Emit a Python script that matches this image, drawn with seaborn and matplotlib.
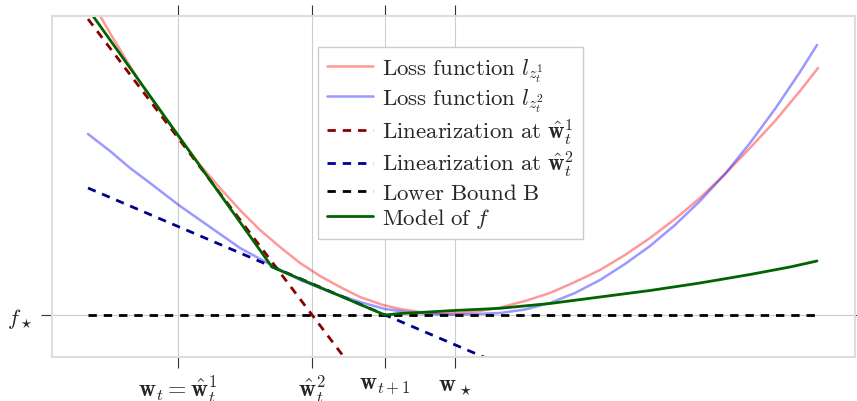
import matplotlib
matplotlib.use("Agg")
import matplotlib.pyplot as plt
import seaborn as sns

# x / y (x in pixels, y = height above f_star)
loss1_x = [95, 110, 125, 140, 155, 178, 200, 220, 240, 260, 280, 300, 320, 340, 360, 383, 400, 420, 441,
           460, 480, 500, 525, 550, 575, 600, 625, 650, 675, 700, 725, 750, 775, 800, 818]
loss1_y = [308, 282, 257, 233, 211, 179, 150, 127, 105, 85, 68, 52, 39, 28, 18, 10, 6, 3, 1.5,
           2, 4, 7.5, 14, 22, 33, 45, 60, 77, 96, 117, 141, 167, 194, 224, 247]

loss2_x = [88, 110, 130, 150, 180, 210, 240, 273, 300, 330, 360, 385, 410, 430, 452,
           475, 500, 525, 550, 575, 600, 625, 650, 675, 700, 725, 750, 775, 800, 817]
loss2_y = [181, 164, 147, 132, 109, 88, 67, 49, 35, 23, 13, 6, 2.5, 1, 0.3,
           1, 2, 5.5, 12, 22, 35, 51, 69, 90, 114, 141, 172, 206, 243, 270]

lin1_x = [88, 350]
lin1_y = [296, -50]

lin2_x = [88, 500]
lin2_y = [127, -49]

bound_x = [88, 815]
bound_y = [0, 0]

model_x = [93, 272, 385, 400, 420, 450, 500, 550, 600, 650, 700, 750, 790, 817]
model_y = [299, 48, 0, 1.5, 2.5, 4.3, 6.7, 11.5, 18, 24.5, 32, 40.5, 48, 54]

xticks = [178, 312, 385, 455]
xlabels = [r"$\mathbf{w}_t = \hat{\mathbf{w}}_t^1$", r"$\hat{\mathbf{w}}_t^2$",
           r"$\mathbf{w}_{t+1}$", r"$\mathbf{w}_\star$"]
f_star = 0

sns.set_style("white")
plt.rcParams['mathtext.fontset'] = 'cm'
plt.rcParams['font.family'] = ['DejaVu Serif']

fig = plt.figure(figsize=(8.57, 4.02), dpi=100)
ax = fig.add_axes([52/857, 1 - 358/402, (855 - 52)/857, (358 - 17)/402])

dash = (0, (3, 2.5))
sns.lineplot(x=loss1_x, y=loss1_y, ax=ax, color='red', alpha=0.4, lw=1.8,
             label=r"$\mathrm{Loss\ function}\ l_{z_t^1}$")
sns.lineplot(x=loss2_x, y=loss2_y, ax=ax, color='blue', alpha=0.4, lw=1.8,
             label=r"$\mathrm{Loss\ function}\ l_{z_t^2}$")
sns.lineplot(x=lin1_x, y=lin1_y, ax=ax, color='darkred', lw=2, linestyle=dash,
             label=r"$\mathrm{Linearization\ at}\ \hat{\mathbf{w}}_t^1$")
sns.lineplot(x=lin2_x, y=lin2_y, ax=ax, color='darkblue', lw=2, linestyle=dash,
             label=r"$\mathrm{Linearization\ at}\ \hat{\mathbf{w}}_t^2$")
sns.lineplot(x=bound_x, y=bound_y, ax=ax, color='black', lw=2, linestyle=dash,
             label=r"$\mathrm{Lower\ Bound\ B}$")
sns.lineplot(x=model_x, y=model_y, ax=ax, color='darkgreen', lw=2,
             label=r"$\mathrm{Model\ of}\ f$")

ax.set_xlim(52, 855)
ax.set_ylim(316 - 358, 316 - 17)
ax.set_xticks(xticks)
ax.set_xticklabels(xlabels, fontsize=17)
ax.set_yticks([f_star])
ax.set_yticklabels([r"$f_\star$"], fontsize=16)

ax.grid(True, color='#cccccc', lw=0.8)
ax.set_axisbelow(True)
ax.tick_params(top=True, right=True, bottom=True, left=True, direction='out',
               length=8, width=0.8, color='#333333')
ax.tick_params(axis='x', pad=3.5)
ax.tick_params(axis='y', pad=6)
for s in ax.spines.values():
    s.set_color('#dddddd')
    s.set_linewidth(1.5)

ax.legend(loc='upper left', bbox_to_anchor=(318/857, 1 - 48/402), bbox_transform=fig.transFigure,
          fontsize=16.5, frameon=True, fancybox=False, edgecolor='#cccccc', framealpha=1,
          handlelength=2.0, handletextpad=0.4, borderpad=0.4, labelspacing=0.1,
          borderaxespad=0)

fig.savefig("out.png", dpi=100)
